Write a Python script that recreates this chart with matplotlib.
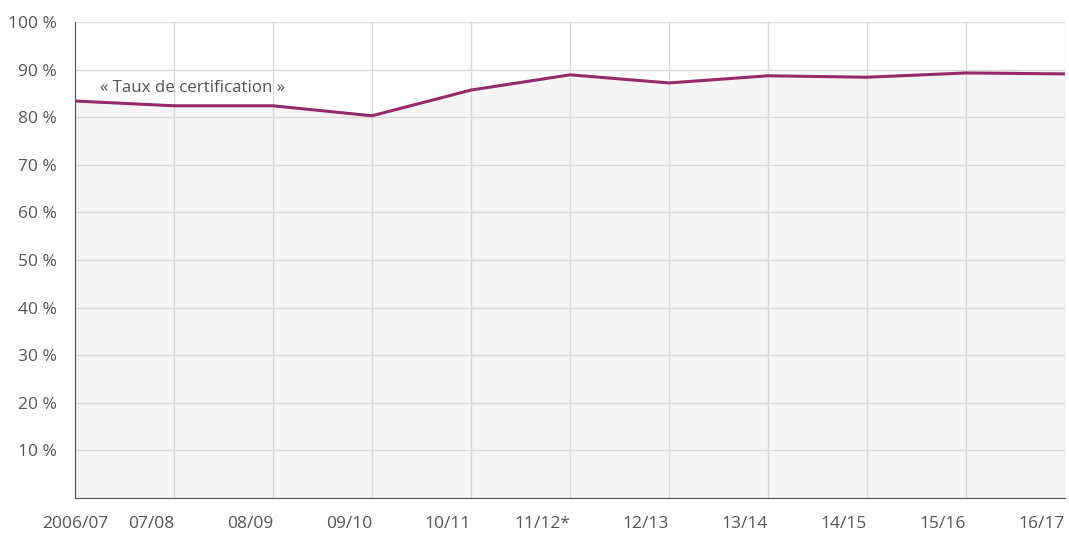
import matplotlib.pyplot as plt
import matplotlib.transforms as mtransforms

# data
years = ["2006/07", "07/08", "08/09", "09/10", "10/11", "11/12*", "12/13",
         "13/14", "14/15", "15/16", "16/17"]
taux = [83.4, 82.4, 82.4, 80.3, 85.7, 88.9, 87.2, 88.7, 88.4, 89.3, 89.1]
yticks = [10, 20, 30, 40, 50, 60, 70, 80, 90, 100]
ytick_labels = [f"{v} %" for v in yticks]

plt.rcParams['font.family'] = ['Open Sans', 'DejaVu Sans']
txt_col = "#555555"
line_col = "#96296a"

fig = plt.figure(figsize=(10.69, 5.33), dpi=100)
ax = fig.add_axes([75 / 1069, 35 / 533, 990 / 1069, 476 / 533])

x = list(range(len(years)))
ax.fill_between(x, 0, taux, color="#f5f5f5", zorder=1)
ax.plot(x, taux, color=line_col, lw=2.2, zorder=3, solid_joinstyle="miter")

ax.set_xlim(0, len(years) - 1)
ax.set_ylim(0, 100)
ax.set_yticks(yticks)
ax.set_yticklabels(ytick_labels)
ax.set_xticks(x)
ax.set_xticklabels(years)
for i, lab in enumerate(ax.get_xticklabels()):
    lab.set_ha("center" if i == 0 else "right")
    if i == 0:
        lab.set_transform(lab.get_transform() +
                          mtransforms.ScaledTranslation(-9 / 100, 0, fig.dpi_scale_trans))
    else:
        lab.set_transform(lab.get_transform() +
                          mtransforms.ScaledTranslation(2 / 100, 0, fig.dpi_scale_trans))

ax.grid(True, color="#d8d8d8", lw=1, zorder=2)
ax.set_axisbelow(False)
for s in ["top", "right"]:
    ax.spines[s].set_visible(False)
ax.spines["left"].set_color("#555555")
ax.spines["bottom"].set_color("#555555")
ax.spines["left"].set_zorder(4)
ax.spines["bottom"].set_zorder(4)
ax.tick_params(length=0, colors=txt_col, labelsize=12.5)
ax.tick_params(axis="y", pad=13)
ax.tick_params(axis="x", pad=13)

ax.text(0.25, 86.2, "« Taux de certification »", color=txt_col, fontsize=12.2,
        ha="left", va="center", zorder=5)

plt.savefig("out.png", dpi=100)
